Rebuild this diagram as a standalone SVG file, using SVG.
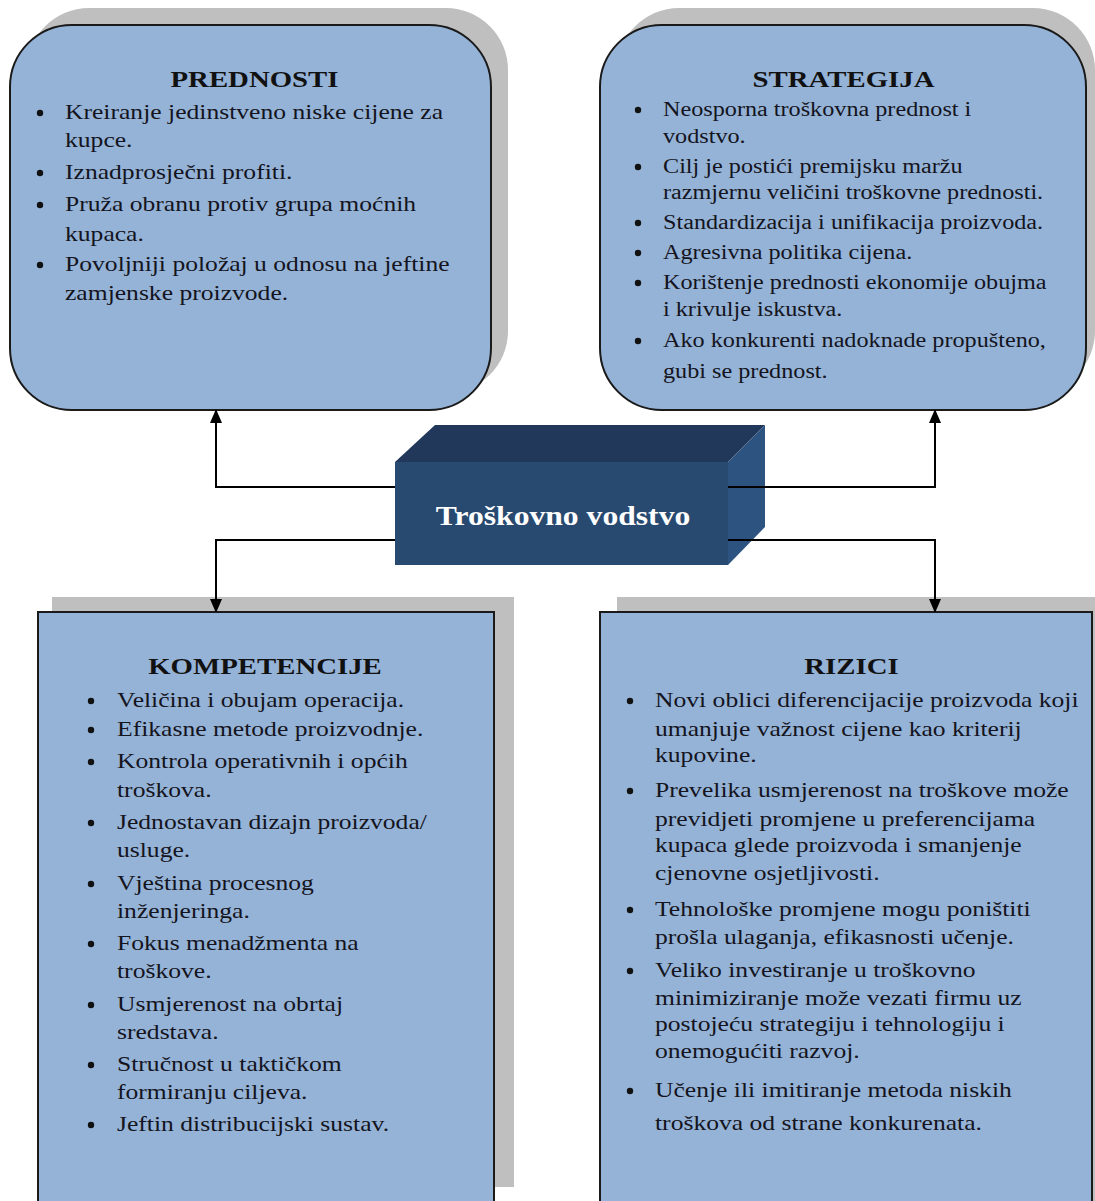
<svg xmlns="http://www.w3.org/2000/svg" width="1095" height="1201" viewBox="0 0 1095 1201">
<defs>
<style>
.shadow{fill:#BFBFBF}
.box{fill:#95B3D7;stroke:#1a1a1a;stroke-width:2}
.title{font-family:"Liberation Serif","Times New Roman",serif;font-weight:bold;font-size:24px;fill:#111;text-anchor:middle}
.item{font-family:"Liberation Serif","Times New Roman",serif;font-size:22px;fill:#141420}
.item2{font-family:"Liberation Serif","Times New Roman",serif;font-size:20px;fill:#141420}
.bul{fill:#111}
.conn{fill:none;stroke:#000;stroke-width:2}
</style>
<marker id="arr" viewBox="0 0 12 14" refX="13" refY="7" markerWidth="12" markerHeight="14" markerUnits="userSpaceOnUse" orient="auto">
<path d="M0,1 L14,7 L0,13 Z" fill="#000"/>
</marker>
</defs>
<rect width="1095" height="1201" fill="#fff"/>

<g id="prednosti">
<rect class="shadow" x="27" y="8" width="481" height="385" rx="62"/>
<rect class="box" x="10" y="25" width="481" height="385" rx="62"/>
<g transform="translate(254.5,0) scale(1.2,1)"><text class="title" x="0" y="87">PREDNOSTI</text></g>
<circle class="bul" cx="40" cy="113" r="3.2"/>
<circle class="bul" cx="40" cy="173" r="3.2"/>
<circle class="bul" cx="40" cy="205" r="3.2"/>
<circle class="bul" cx="40" cy="265" r="3.2"/>
<g transform="translate(65,0) scale(1.164,1)">
<text class="item" x="0" y="119">Kreiranje jedinstveno niske cijene za</text>
<text class="item" x="0" y="147">kupce.</text>
<text class="item" x="0" y="179">Iznadprosječni profiti.</text>
<text class="item" x="0" y="211">Pruža obranu protiv grupa moćnih</text>
<text class="item" x="0" y="241">kupaca.</text>
<text class="item" x="0" y="271">Povoljniji položaj u odnosu na jeftine</text>
<text class="item" x="0" y="300">zamjenske proizvode.</text>
</g>
</g>

<g id="strategija">
<rect class="shadow" x="617" y="8" width="478" height="385" rx="62"/>
<rect class="box" x="600" y="25" width="486" height="385" rx="62"/>
<g transform="translate(843.5,0) scale(1.2,1)"><text class="title" x="0" y="87">STRATEGIJA</text></g>
<circle class="bul" cx="638" cy="110" r="3.2"/>
<circle class="bul" cx="638" cy="167" r="3.2"/>
<circle class="bul" cx="638" cy="223" r="3.2"/>
<circle class="bul" cx="638" cy="253" r="3.2"/>
<circle class="bul" cx="638" cy="283" r="3.2"/>
<circle class="bul" cx="638" cy="341" r="3.2"/>
<g transform="translate(663,0) scale(1.21,1)">
<text class="item2" x="0" y="116">Neosporna troškovna prednost i</text>
<text class="item2" x="0" y="143">vodstvo.</text>
<text class="item2" x="0" y="173">Cilj je postići premijsku maržu</text>
<text class="item2" x="0" y="199">razmjernu veličini troškovne prednosti.</text>
<text class="item2" x="0" y="229">Standardizacija i unifikacija proizvoda.</text>
<text class="item2" x="0" y="259">Agresivna politika cijena.</text>
<text class="item2" x="0" y="289">Korištenje prednosti ekonomije obujma</text>
<text class="item2" x="0" y="316">i krivulje iskustva.</text>
<text class="item2" x="0" y="347">Ako konkurenti nadoknade propušteno,</text>
<text class="item2" x="0" y="378">gubi se prednost.</text>
</g>
</g>

<g id="troskovno-vodstvo">
<polygon points="395,462 435,425 765,425 728,462" fill="#22385A"/>
<polygon points="728,462 765,425 765,527 728,565" fill="#2D5380"/>
<rect x="395" y="462" width="333" height="103" fill="#284A70"/>
<g transform="translate(563,0) scale(1.13,1)"><text x="0" y="525" text-anchor="middle" font-family="Liberation Serif,Times New Roman,serif" font-weight="bold" font-size="28" fill="#fff">Troškovno vodstvo</text></g>
</g>

<g id="kompetencije">
<rect class="shadow" x="52" y="597" width="462" height="590"/>
<rect class="box" x="38" y="612" width="456" height="600"/>
<g transform="translate(265,0) scale(1.2,1)"><text class="title" x="0" y="674">KOMPETENCIJE</text></g>
<circle class="bul" cx="91" cy="701" r="3.2"/>
<circle class="bul" cx="91" cy="730" r="3.2"/>
<circle class="bul" cx="91" cy="762" r="3.2"/>
<circle class="bul" cx="91" cy="823" r="3.2"/>
<circle class="bul" cx="91" cy="884" r="3.2"/>
<circle class="bul" cx="91" cy="944" r="3.2"/>
<circle class="bul" cx="91" cy="1005" r="3.2"/>
<circle class="bul" cx="91" cy="1065" r="3.2"/>
<circle class="bul" cx="91" cy="1125" r="3.2"/>
<g transform="translate(117,0) scale(1.164,1)">
<text class="item" x="0" y="707">Veličina i obujam operacija.</text>
<text class="item" x="0" y="736">Efikasne metode proizvodnje.</text>
<text class="item" x="0" y="768">Kontrola operativnih i općih</text>
<text class="item" x="0" y="797">troškova.</text>
<text class="item" x="0" y="829">Jednostavan dizajn proizvoda/</text>
<text class="item" x="0" y="857">usluge.</text>
<text class="item" x="0" y="890">Vještina procesnog</text>
<text class="item" x="0" y="918">inženjeringa.</text>
<text class="item" x="0" y="950">Fokus menadžmenta na</text>
<text class="item" x="0" y="978">troškove.</text>
<text class="item" x="0" y="1011">Usmjerenost na obrtaj</text>
<text class="item" x="0" y="1039">sredstava.</text>
<text class="item" x="0" y="1071">Stručnost u taktičkom</text>
<text class="item" x="0" y="1099">formiranju ciljeva.</text>
<text class="item" x="0" y="1131">Jeftin distribucijski sustav.</text>
</g>
</g>

<g id="rizici">
<rect class="shadow" x="617" y="597" width="478" height="620"/>
<rect class="box" x="600" y="612" width="492" height="600"/>
<g transform="translate(851.5,0) scale(1.2,1)"><text class="title" x="0" y="674">RIZICI</text></g>
<circle class="bul" cx="630" cy="701" r="3.2"/>
<circle class="bul" cx="630" cy="791" r="3.2"/>
<circle class="bul" cx="630" cy="910" r="3.2"/>
<circle class="bul" cx="630" cy="971" r="3.2"/>
<circle class="bul" cx="630" cy="1091" r="3.2"/>
<g transform="translate(655,0) scale(1.164,1)">
<text class="item" x="0" y="707">Novi oblici diferencijacije proizvoda koji</text>
<text class="item" x="0" y="736">umanjuje važnost cijene kao kriterij</text>
<text class="item" x="0" y="762">kupovine.</text>
<text class="item" x="0" y="797">Prevelika usmjerenost na troškove može</text>
<text class="item" x="0" y="826">previdjeti promjene u preferencijama</text>
<text class="item" x="0" y="852">kupaca glede proizvoda i smanjenje</text>
<text class="item" x="0" y="880">cjenovne osjetljivosti.</text>
<text class="item" x="0" y="916">Tehnološke promjene mogu poništiti</text>
<text class="item" x="0" y="944">prošla ulaganja, efikasnosti učenje.</text>
<text class="item" x="0" y="977">Veliko investiranje u troškovno</text>
<text class="item" x="0" y="1005">minimiziranje može vezati firmu uz</text>
<text class="item" x="0" y="1031">postojeću strategiju i tehnologiju i</text>
<text class="item" x="0" y="1058">onemogućiti razvoj.</text>
<text class="item" x="0" y="1097">Učenje ili imitiranje metoda niskih</text>
<text class="item" x="0" y="1130">troškova od strane konkurenata.</text>
</g>
</g>

<g id="connectors">
<polyline class="conn" points="395,487 216,487 216,410" marker-end="url(#arr)"/>
<polyline class="conn" points="728,487 935,487 935,410" marker-end="url(#arr)"/>
<polyline class="conn" points="395,540 216,540 216,612" marker-end="url(#arr)"/>
<polyline class="conn" points="728,540 935,540 935,612" marker-end="url(#arr)"/>
</g>
</svg>
